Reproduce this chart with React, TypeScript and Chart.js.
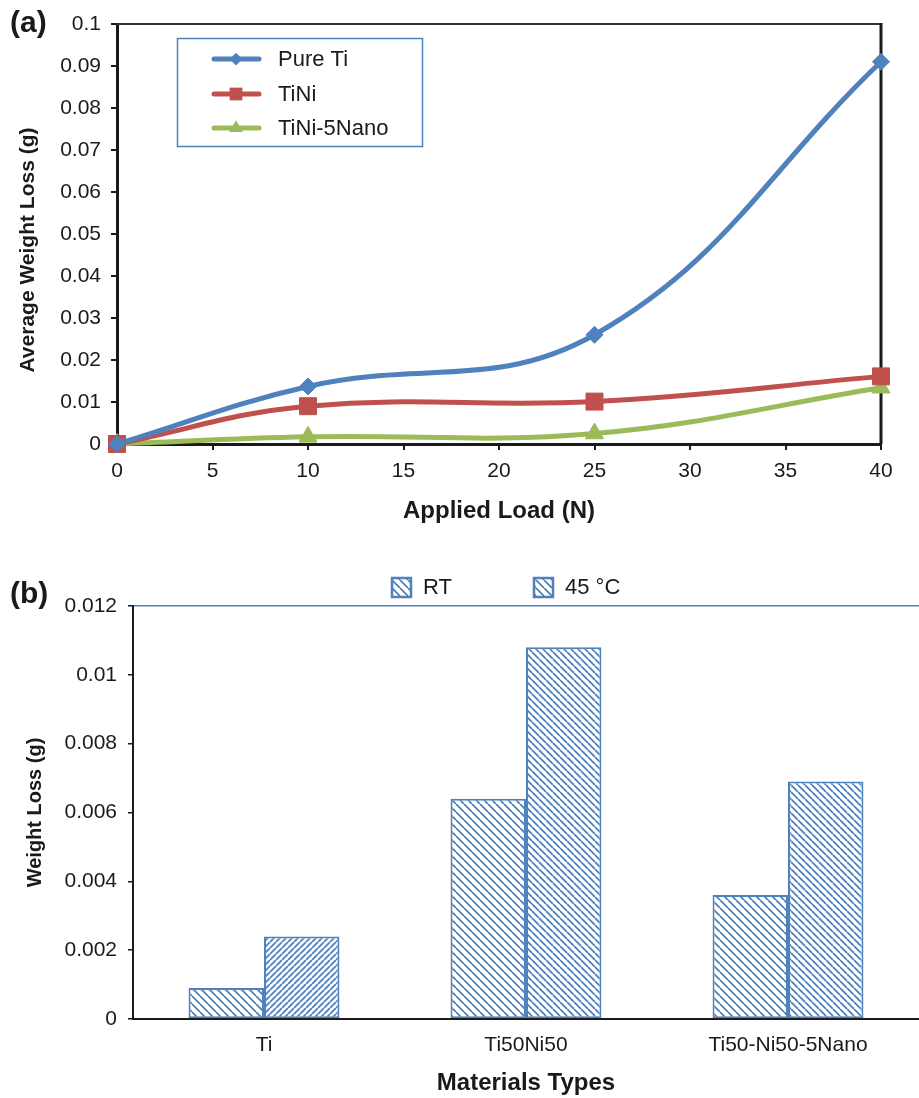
import React, { useEffect, useRef } from "react";
import { Chart, registerables } from "chart.js";

Chart.register(...registerables);

// ---------- data (a) ----------
const loads = [0, 10, 25, 40];
const pureTi = [0, 0.0137, 0.026, 0.091];
const tiNi = [0, 0.009, 0.0101, 0.0161];
const tiNiNano = [0, 0.0017, 0.0025, 0.0134];
const seriesNamesA = ["Pure Ti", "TiNi", "TiNi-5Nano"];
const xTitleA = "Applied Load (N)";
const yTitleA = "Average Weight Loss (g)";

// ---------- data (b) ----------
const materials = ["Ti", "Ti50Ni50", "Ti50-Ni50-5Nano"];
const rtLoss = [0.0009, 0.0064, 0.0036];
const hotLoss = [0.0024, 0.0108, 0.0069];
const seriesNamesB = ["RT", "45 °C"];
const xTitleB = "Materials Types";
const yTitleB = "Weight Loss (g)";

// ---------- style ----------
const FONT = "'Liberation Sans', Arial, Helvetica, sans-serif";
const INK = "#1a1a1a";
const BLUE = "#4F81BD";
const RED = "#C0504D";
const GREEN = "#9BBB59";
const colorsA = [BLUE, RED, GREEN];
const stylesA = ["rectRot", "rect", "triangle"];
const radiiA = [8.5, 12, 10.5];

const fmt = (v: any) => String(Number(Number(v).toFixed(4)));

function hatch(spacing: number, dir: "back" | "fwd") {
  const c = document.createElement("canvas");
  c.width = spacing;
  c.height = spacing;
  const g = c.getContext("2d")!;
  g.fillStyle = "#ffffff";
  g.fillRect(0, 0, spacing, spacing);
  g.strokeStyle = BLUE;
  g.lineWidth = 1.8;
  g.beginPath();
  for (const k of [-spacing, 0, spacing]) {
    if (dir === "back") {
      g.moveTo(k, 0);
      g.lineTo(k + spacing, spacing);
    } else {
      g.moveTo(k, spacing);
      g.lineTo(k + spacing, 0);
    }
  }
  g.stroke();
  return g.createPattern(c, "repeat")!;
}

function drawMarker(ctx: CanvasRenderingContext2D, style: string, x: number, y: number, r: number, color: string) {
  ctx.save();
  ctx.fillStyle = color;
  ctx.beginPath();
  if (style === "rectRot") {
    ctx.moveTo(x, y - r);
    ctx.lineTo(x + r, y);
    ctx.lineTo(x, y + r);
    ctx.lineTo(x - r, y);
  } else if (style === "rect") {
    const s = r * Math.SQRT1_2;
    ctx.rect(x - s, y - s, 2 * s, 2 * s);
  } else {
    ctx.moveTo(x, y - r);
    ctx.lineTo(x + r * 0.866, y + r * 0.5);
    ctx.lineTo(x - r * 0.866, y + r * 0.5);
  }
  ctx.closePath();
  ctx.fill();
  ctx.restore();
}

const frameA = {
  id: "frameA",
  beforeDatasetsDraw(chart: any) {
    const { ctx, chartArea: a } = chart;
    ctx.save();
    ctx.strokeStyle = "#333333";
    ctx.lineWidth = 2;
    ctx.beginPath();
    ctx.moveTo(a.left, a.top);
    ctx.lineTo(a.right, a.top);
    ctx.stroke();
    ctx.strokeStyle = INK;
    ctx.lineWidth = 3;
    ctx.beginPath();
    ctx.moveTo(a.right, a.top - 1);
    ctx.lineTo(a.right, a.bottom);
    ctx.stroke();
    ctx.restore();
  },
};

const decorA = {
  id: "decorA",
  afterDraw(chart: any) {
    const ctx: CanvasRenderingContext2D = chart.ctx;
    ctx.save();
    // panel label
    ctx.fillStyle = INK;
    ctx.font = `bold 30px ${FONT}`;
    ctx.textBaseline = "middle";
    ctx.textAlign = "left";
    ctx.fillText("(a)", 10, 24);
    // y title
    ctx.save();
    ctx.translate(28, 250);
    ctx.rotate(-Math.PI / 2);
    ctx.font = `bold 21px ${FONT}`;
    ctx.textAlign = "center";
    ctx.fillText(yTitleA, 0, 0);
    ctx.restore();
    // legend box
    ctx.strokeStyle = BLUE;
    ctx.lineWidth = 1.5;
    ctx.strokeRect(177.5, 38.5, 245, 108);
    const rows = [59, 94, 128];
    chart.data.datasets.forEach((ds: any, i: number) => {
      const y = rows[i];
      ctx.strokeStyle = ds.borderColor;
      ctx.lineWidth = 5;
      ctx.lineCap = "round";
      ctx.beginPath();
      ctx.moveTo(214, y);
      ctx.lineTo(259, y);
      ctx.stroke();
      drawMarker(ctx, stylesA[i], 236, y, radiiA[i] * 0.75, ds.borderColor);
      ctx.fillStyle = INK;
      ctx.font = `22px ${FONT}`;
      ctx.textAlign = "left";
      ctx.textBaseline = "middle";
      ctx.fillText(ds.label, 278, y + 1);
    });
    ctx.restore();
  },
};

const decorB = {
  id: "decorB",
  afterDraw(chart: any) {
    const ctx: CanvasRenderingContext2D = chart.ctx;
    ctx.save();
    ctx.fillStyle = INK;
    ctx.font = `bold 30px ${FONT}`;
    ctx.textBaseline = "middle";
    ctx.textAlign = "left";
    ctx.fillText("(b)", 10, 55);
    const xs = [392, 534];
    chart.data.datasets.forEach((ds: any, i: number) => {
      const x = xs[i];
      ctx.fillStyle = chart.$legendPattern;
      ctx.fillRect(x, 38, 19, 19);
      ctx.strokeStyle = BLUE;
      ctx.lineWidth = 2.5;
      ctx.strokeRect(x, 38, 19, 19);
      ctx.fillStyle = INK;
      ctx.font = `22px ${FONT}`;
      ctx.textAlign = "left";
      ctx.textBaseline = "middle";
      ctx.fillText(ds.label, x + 31, 48);
    });
    ctx.restore();
  },
};

export default function App() {
  const refA = useRef<HTMLCanvasElement>(null);
  const refB = useRef<HTMLCanvasElement>(null);

  useEffect(() => {
    Chart.defaults.font.family = FONT;
    Chart.defaults.color = INK;

    const valuesA = [pureTi, tiNi, tiNiNano];
    const chartA = new Chart(refA.current!, {
      type: "line",
      data: {
        datasets: seriesNamesA.map((name, i) => ({
          label: name,
          data: loads.map((x, j) => ({ x, y: valuesA[i][j] })),
          borderColor: colorsA[i],
          backgroundColor: colorsA[i],
          pointBackgroundColor: colorsA[i],
          pointBorderColor: colorsA[i],
          pointBorderWidth: 1,
          pointStyle: stylesA[i],
          pointRadius: radiiA[i],
          borderWidth: 5,
          tension: 0.4,
          clip: false,
          fill: false,
        })),
      },
      options: {
        responsive: false,
        animation: false,
        events: [],
        layout: { padding: { left: 0, right: 38, top: 24, bottom: 0 } },
        plugins: { legend: { display: false }, tooltip: { enabled: false } },
        scales: {
          x: {
            type: "linear",
            min: 0,
            max: 40,
            ticks: { stepSize: 5, font: { size: 21 }, color: INK, padding: 9, maxRotation: 0, autoSkip: false },
            grid: { drawOnChartArea: false, drawTicks: true, tickLength: 6, color: INK, lineWidth: 2 },
            border: { display: true, color: INK, width: 3 },
            title: {
              display: true,
              text: xTitleA,
              color: INK,
              font: { size: 24, weight: "bold" },
              padding: { top: 0, bottom: 14 },
            },
            afterFit: (s: any) => {
              s.height = 96;
            },
          },
          y: {
            min: 0,
            max: 0.1,
            ticks: { stepSize: 0.01, font: { size: 21 }, color: INK, padding: 10, callback: fmt },
            grid: { drawOnChartArea: false, drawTicks: true, tickLength: 6, color: INK, lineWidth: 2 },
            border: { display: true, color: INK, width: 3 },
            afterFit: (s: any) => {
              s.width = 117;
            },
          },
        },
      } as any,
      plugins: [frameA, decorA],
    });

    const backRT = hatch(8, "back");
    const back45 = hatch(7, "back");
    const fwd45 = hatch(6, "fwd");
    const chartB = new Chart(refB.current!, {
      type: "bar",
      data: {
        labels: materials,
        datasets: [
          {
            label: seriesNamesB[0],
            data: rtLoss,
            backgroundColor: backRT,
            borderColor: BLUE,
            borderWidth: 2,
            borderSkipped: false,
            categoryPercentage: 0.576,
            barPercentage: 1,
          },
          {
            label: seriesNamesB[1],
            data: hotLoss,
            backgroundColor: [fwd45, back45, back45],
            borderColor: BLUE,
            borderWidth: 2,
            borderSkipped: false,
            categoryPercentage: 0.576,
            barPercentage: 1,
          },
        ],
      },
      options: {
        responsive: false,
        animation: false,
        events: [],
        layout: { padding: { left: 0, right: 0, top: 66, bottom: 0 } },
        plugins: { legend: { display: false }, tooltip: { enabled: false } },
        scales: {
          x: {
            ticks: { font: { size: 21 }, color: INK, padding: 14 },
            grid: { display: false, drawTicks: false },
            border: { display: true, color: INK, width: 2 },
            title: {
              display: true,
              text: xTitleB,
              color: INK,
              font: { size: 24, weight: "bold" },
              padding: { top: 0, bottom: 0 },
            },
            afterFit: (s: any) => {
              s.height = 79;
            },
          },
          y: {
            min: 0,
            max: 0.012,
            ticks: { stepSize: 0.002, font: { size: 21 }, color: INK, padding: 11, callback: fmt },
            grid: {
              drawOnChartArea: true,
              drawTicks: true,
              tickLength: 5,
              lineWidth: 1.5,
              tickColor: INK,
              color: (c: any) =>
                c.tick && Math.abs(c.tick.value - 0.012) < 1e-9 ? BLUE : "rgba(0,0,0,0)",
            },
            border: { display: true, color: INK, width: 2 },
            title: {
              display: true,
              text: yTitleB,
              color: INK,
              font: { size: 20, weight: "bold" },
              padding: { top: 23, bottom: 0 },
            },
            afterFit: (s: any) => {
              s.width = 133;
            },
          },
        },
      } as any,
      plugins: [decorB],
    });
    (chartB as any).$legendPattern = backRT;
    chartB.draw();

    return () => {
      chartA.destroy();
      chartB.destroy();
    };
  }, []);

  return (
    <div style={{ position: "absolute", left: 0, top: 0, width: 919, height: 1098, background: "#ffffff" }}>
      <canvas
        ref={refA}
        width={919}
        height={540}
        style={{ position: "absolute", left: 0, top: 0, width: 919, height: 540, display: "block" }}
      />
      <canvas
        ref={refB}
        width={919}
        height={558}
        style={{ position: "absolute", left: 0, top: 540, width: 919, height: 558, display: "block" }}
      />
    </div>
  );
}
